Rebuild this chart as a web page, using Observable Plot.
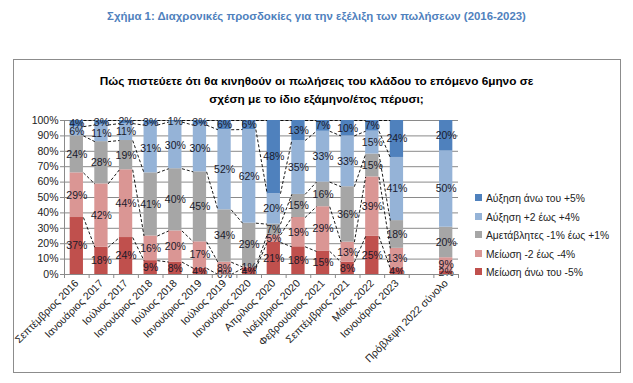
<!DOCTYPE html>
<html>
<head>
<meta charset="utf-8">
<script src="https://cdn.jsdelivr.net/npm/d3@7"></script>
<script src="https://cdn.jsdelivr.net/npm/@observablehq/plot@0.6"></script>
<style>
  body { margin: 0; background: #fff; width: 633px; height: 383px; position: relative; overflow: hidden;
         font-family: "Liberation Sans Narrow", "Arial Narrow", "Liberation Sans", Arial, sans-serif; }
  #title { position: absolute; top: 10px; left: 0; width: 633px; text-align: center; color: #4f81bd;
           font-weight: bold; font-size: 11.4px; }
  #box { position: absolute; left: 13px; top: 59px; width: 608px; height: 314px; border: 1.5px solid #8c8c8c; box-sizing: border-box; }
  #ctitle { position: absolute; top: 72px; left: 0; width: 633px; text-align: center; font-weight: bold; font-size: 11.8px; line-height: 18px; color: #000; }
  #chart { position: absolute; left: 0; top: 110px; }
  #legend { position: absolute; left: 475px; top: 193px; font-size: 10.3px; color: #222; }
  #legend div { height: 18.5px; line-height: 12px; white-space: nowrap; }
  #legend span.sw { display: inline-block; width: 7px; height: 7px; margin-right: 4px; vertical-align: 1px; }
</style>
</head>
<body>
<div id="title">Σχήμα 1: Διαχρονικές προσδοκίες για την εξέλιξη των πωλήσεων (2016-2023)</div>
<div id="box"></div>
<div id="ctitle">Πώς πιστεύετε ότι θα κινηθούν οι πωλήσεις του κλάδου το επόμενο 6μηνο σε<br>σχέση με το ίδιο εξάμηνο/έτος πέρυσι;</div>
<div id="chart"></div>
<div id="legend"></div>
<script>
const categories = ["Σεπτέμβριος 2016","Ιανουάριος 2017","Ιούλιος 2017","Ιανουάριος 2018","Ιούλιος 2018","Ιανουάριος 2019","Ιούλιος 2019","Ιανουάριος 2020","Απρίλιος 2020","Νοέμβριος 2020","Φεβρουάριος 2021","Σεπτέμβριος 2021","Μάιος 2022","Ιανουάριος 2023","","Πρόβλεψη 2022 σύνολο"];
const seriesNames = ["Μείωση άνω του -5%","Μείωση -2 έως -4%","Αμετάβλητες -1% έως +1%","Αύξηση +2 έως +4%","Αύξηση άνω του +5%"];
const seriesColors = ["#c0504d","#da9694","#a6a6a6","#95b3d7","#4f81bd"];
const decrease5 = [37,18,24,9,8,4,0,4,21,18,15,8,25,4,null,2];
const decrease2 = [29,42,44,16,20,17,8,1,5,19,29,13,39,13,null,9];
const unchanged = [24,28,19,41,40,45,34,29,7,15,16,36,15,18,null,20];
const increase2 = [6,11,11,31,30,30,52,62,20,35,33,33,15,41,null,50];
const increase5 = [4,3,2,3,1,3,6,6,48,13,7,10,7,24,null,20];
const yTickValues = [0,10,20,30,40,50,60,70,80,90,100];
const seriesLineGroup = [0,1,2,3,4,5,6,7,8,9,10,11,12,13];

const seriesValues = [decrease5, decrease2, unchanged, increase2, increase5];
const halfBar = 0.27;

// 100% stacked (normalized) segments
const segments = [];
const cum = [];
categories.forEach((c, i) => {
  if (decrease5[i] == null) { cum.push(null); return; }
  const total = d3.sum(seriesValues, s => s[i]);
  let acc = 0;
  const tops = [0];
  seriesValues.forEach((s, k) => {
    const v = s[i];
    const y1 = acc / total, y2 = (acc + v) / total;
    segments.push({i, k, value: v, y1, y2, series: seriesNames[k]});
    acc += v;
    tops.push(acc / total);
  });
  cum.push(tops);
});

const links = [];
for (let j = 0; j < seriesLineGroup.length - 1; j++) {
  const a = seriesLineGroup[j], b = seriesLineGroup[j + 1];
  for (let k = 1; k <= 5; k++) {
    links.push({x1: a + halfBar, x2: b - halfBar, y1: cum[a][k], y2: cum[b][k]});
  }
}

const boundaries = d3.range(-0.5, categories.length, 1);
const labelIdx = categories.map((c, i) => i).filter(i => categories[i] !== "");

const chart = Plot.plot({
  width: 633, height: 260,
  marginLeft: 64, marginRight: 175, marginTop: 10, marginBottom: 96,
  x: {type: "linear", domain: [-0.5, categories.length - 0.5], axis: null},
  y: {domain: [0, 1], axis: null},
  style: {fontFamily: '"Liberation Sans Narrow", "Arial Narrow", "Liberation Sans", Arial, sans-serif', fontSize: "10px", color: "#222", background: "transparent"},
  marks: [
    Plot.ruleY(yTickValues.map(v => v / 100), {stroke: "#8a8a8a", strokeWidth: 1, strokeOpacity: 1}),
    Plot.rect(segments, {x1: d => d.i - halfBar, x2: d => d.i + halfBar, y1: "y1", y2: "y2",
      fill: d => seriesColors[d.k]}),
    Plot.link(links, {x1: "x1", x2: "x2", y1: "y1", y2: "y2", stroke: "#000", strokeWidth: 0.9, strokeDasharray: "3,2"}),
    Plot.text(segments, {x: "i", y: d => (d.y1 + d.y2) / 2, text: d => d.value + "%", fill: "#1a1a2a", fontSize: 10.5}),
    Plot.ruleX([-0.5], {stroke: "#8a8a8a", strokeWidth: 1}),
    Plot.ruleY([0], {stroke: "#8a8a8a", strokeWidth: 1}),
    Plot.axisY({ticks: yTickValues.map(v => v / 100), tickFormat: d => Math.round(d * 100) + "%", tickSize: 4, tickPadding: 2, stroke: "#8a8a8a", fontSize: 10.5}),
    Plot.axisX({ticks: boundaries, tickFormat: () => "", tickSize: 4, stroke: "#8a8a8a"}),
    Plot.axisX({ticks: labelIdx, tickFormat: i => categories[i], tickSize: 0, tickRotate: -45, tickPadding: 7, fontSize: 10.5})
  ]
});
document.getElementById("chart").appendChild(chart);

const legend = document.getElementById("legend");
[4, 3, 2, 1, 0].forEach(k => {
  const row = document.createElement("div");
  row.innerHTML = `<span class="sw" style="background:${seriesColors[k]}"></span>${seriesNames[k]}`;
  legend.appendChild(row);
});
</script>
</body>
</html>
